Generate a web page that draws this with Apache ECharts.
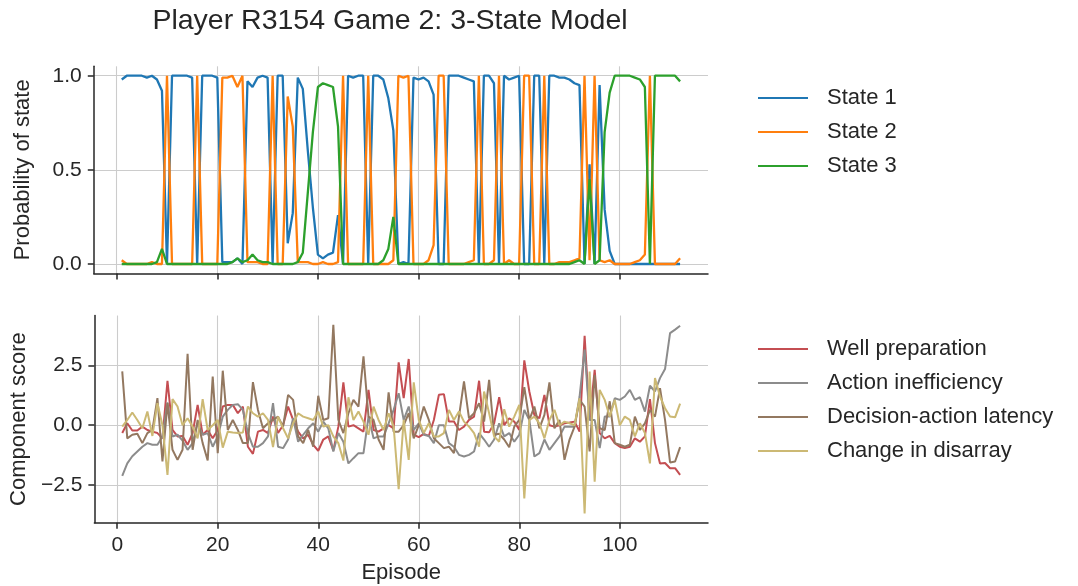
<!DOCTYPE html>
<html>
<head>
<meta charset="utf-8">
<script src="https://cdn.jsdelivr.net/npm/echarts@6/dist/echarts.min.js"></script>
<style>html,body{margin:0;padding:0;background:#fff}#c{width:1078px;height:586px}</style>
</head>
<body>
<div id="c"></div>
<script>
// ---- data ----
const episodes = Array.from({length: 112}, (_, i) => i + 1);
const xTicks = [0, 20, 40, 60, 80, 100];
const probTicks = [0, 0.5, 1.0];
const scoreTicks = [-2.5, 0, 2.5];

const state1 = [0.98,1.0,1.0,1.0,1.0,0.99,1.0,0.98,0.92,0.0,
  1.0,1.0,1.0,1.0,0.99,0.0,1.0,1.0,1.0,0.99,
  0.01,0.01,0.01,0.03,0.0,0.97,0.94,0.99,1.0,0.99,
  0.0,1.0,1.0,0.11,0.27,0.99,0.93,0.6,0.3,0.05,
  0.03,0.05,0.06,0.26,0.0,1.0,0.99,1.0,1.0,0.0,
  1.0,1.0,0.98,0.88,0.71,0.0,0.01,0.0,0.99,0.98,
  0.99,0.97,0.9,0.0,0.0,1.0,1.0,1.0,0.99,0.98,
  0.97,0.0,1.0,1.0,0.96,0.0,1.0,0.98,0.99,1.0,
  0.0,0.0,1.0,1.0,0.0,1.0,1.0,0.99,0.99,0.98,
  0.96,0.95,0.0,0.53,0.0,0.95,0.29,0.07,0.0,0.0,
  0.0,0.0,0.0,0.0,0.0,0.0,0.0,0.0,0.0,0.0,
  0.0,0.0];
const state2 = [0.02,0.0,0.0,0.0,0.0,0.0,0.01,0.0,0.0,1.0,
  0.0,0.0,0.0,0.0,0.0,1.0,0.0,0.0,0.0,0.0,
  0.99,0.99,1.0,0.94,1.0,0.01,0.01,0.01,0.0,0.0,
  1.0,0.0,0.0,0.89,0.73,0.01,0.01,0.01,0.0,0.0,
  0.01,0.0,0.0,0.01,1.0,0.0,0.0,0.0,0.0,1.0,
  0.0,0.0,0.0,0.0,0.02,1.0,0.99,1.0,0.0,0.0,
  0.0,0.02,0.1,1.0,1.0,0.0,0.0,0.0,0.0,0.01,
  0.02,1.0,0.0,0.0,0.02,1.0,0.0,0.02,0.0,0.0,
  1.0,1.0,0.0,0.0,1.0,0.0,0.0,0.01,0.01,0.01,
  0.02,0.03,1.0,0.02,1.0,0.02,0.01,0.02,0.0,0.0,
  0.0,0.0,0.01,0.02,0.05,1.0,0.0,0.0,0.0,0.0,
  0.0,0.03];
const state3 = [0.0,0.0,0.0,0.0,0.0,0.0,0.0,0.01,0.08,0.0,
  0.0,0.0,0.0,0.0,0.0,0.0,0.0,0.0,0.0,0.0,
  0.0,0.0,0.01,0.03,0.01,0.02,0.05,0.02,0.01,0.01,
  0.0,0.0,0.0,0.0,0.0,0.01,0.06,0.38,0.7,0.94,
  0.96,0.95,0.94,0.73,0.0,0.0,0.0,0.0,0.0,0.0,
  0.0,0.0,0.02,0.08,0.25,0.0,0.0,0.0,0.0,0.0,
  0.0,0.0,0.0,0.0,0.0,0.0,0.0,0.0,0.0,0.0,
  0.0,0.0,0.0,0.0,0.0,0.0,0.0,0.0,0.0,0.0,
  0.0,0.0,0.0,0.0,0.0,0.0,0.0,0.0,0.0,0.0,
  0.01,0.02,0.0,0.45,0.0,0.02,0.7,0.91,1.0,1.0,
  1.0,1.0,0.99,0.98,0.94,0.0,1.0,1.0,1.0,1.0,
  1.0,0.97];

const wellPrep = [-0.33,0.08,-0.22,-0.22,-0.06,-0.2,-0.27,-0.33,-0.55,1.86,
  -0.2,-0.47,-0.45,-0.82,-0.33,0.85,-0.4,-0.2,-0.55,-0.2,
  0.78,0.85,0.85,0.5,0.78,-0.9,-1.2,-0.27,-0.2,-0.33,
  0.36,-0.33,0.0,0.78,0.22,-0.27,-0.55,-0.4,-0.82,-1.07,
  -0.6,-0.47,-1.06,-0.06,1.79,-0.06,0.0,-0.13,-0.27,1.48,
  -0.2,-0.27,-0.13,0.0,-0.13,2.63,1.13,2.77,-0.4,-0.5,
  -0.36,-0.45,0.22,1.27,1.3,0.15,0.15,-0.2,-0.06,0.22,
  0.36,1.86,-0.27,-0.3,0.08,1.17,0.0,0.29,0.15,-0.2,
  2.71,1.41,0.43,0.29,1.27,0.0,-0.06,0.0,0.08,0.11,
  0.15,-0.27,3.74,0.22,2.32,-0.33,-0.55,-0.45,-0.75,-0.9,
  -0.96,-0.9,-0.55,-0.69,-0.47,1.09,-0.75,-1.6,-1.58,-1.8,
  -1.8,-2.08];
const actionIneff = [-2.12,-1.6,-1.3,-1.1,-0.9,-0.75,-0.82,-0.82,-0.47,0.95,
  -0.47,-0.4,-0.65,-1.03,-0.75,0.08,-0.4,-0.33,-0.9,-0.47,
  0.36,0.64,0.85,0.88,0.64,-0.33,-0.9,-0.9,-0.75,-0.47,
  0.92,-0.9,-0.96,-0.6,0.29,-0.69,-0.4,-0.13,0.08,-0.27,
  0.15,-0.13,-1.1,-0.33,-0.69,-1.6,-1.38,-1.17,-1.17,0.36,
  -0.55,-0.47,-0.47,0.08,0.64,1.34,0.22,0.78,-0.2,0.08,
  -0.4,-0.45,-0.75,0.0,0.0,-0.75,-0.9,-1.24,-1.31,-1.24,
  -1.1,-0.33,-0.6,-0.9,-0.6,0.08,-0.47,-0.33,-0.69,-0.4,
  0.64,0.22,-1.31,-1.17,-0.6,-1.03,-0.75,-0.47,-0.06,-0.06,
  -0.06,1.2,3.16,0.22,0.22,-0.96,0.36,0.36,1.13,1.06,
  1.2,1.48,1.06,1.17,0.57,1.65,1.41,1.97,2.35,3.85,
  4.0,4.16];
const decisionLatency = [2.25,-0.55,-0.4,-0.36,-0.75,-0.33,-0.2,1.13,-1.52,0.92,
  -1.03,-1.45,-1.03,2.99,-1.03,0.22,-0.75,-1.48,2.04,-1.17,
  2.28,-0.2,0.22,-0.2,-0.75,-0.75,1.8,0.64,-0.13,0.08,
  0.22,0.36,-0.06,1.27,1.06,-0.47,-0.75,-0.2,-0.9,1.23,
  0.22,0.29,4.2,0.22,-0.33,0.5,1.06,0.78,2.88,0.36,
  0.22,-0.6,-1.03,1.37,-0.27,-0.27,0.0,0.5,-0.55,0.0,
  0.78,0.22,-0.55,-0.75,-0.96,-0.9,-1.17,0.36,1.83,0.29,
  0.5,0.92,0.15,1.9,-0.4,-0.36,-0.6,-0.92,-0.06,0.22,
  1.59,0.22,0.78,-0.13,0.43,1.79,-0.13,0.22,-1.45,-0.6,
  -0.06,1.06,0.78,-1.1,2.1,-0.13,-0.2,1.0,-0.75,-0.82,
  -0.9,-0.82,0.36,-0.2,0.08,0.64,0.36,1.55,0.22,-1.56,
  -1.52,-0.92];
const disarray = [-0.06,0.22,0.53,0.22,-0.13,0.57,-0.45,0.92,0.0,-2.08,
  1.09,0.78,0.0,0.29,-0.06,-0.55,1.09,-0.2,0.0,0.22,
  -0.94,-0.27,-0.31,-0.33,-0.31,0.78,0.5,0.36,0.5,0.22,
  -0.92,0.36,-0.13,-0.55,0.08,0.5,0.36,0.29,0.22,0.57,
  -0.06,0.0,-0.47,-0.75,-1.48,1.17,0.22,0.57,0.15,-0.4,
  0.78,0.22,-0.2,0.5,-0.06,-2.68,0.22,-1.45,1.79,0.22,
  -0.33,0.08,-0.47,-0.47,-0.33,0.64,0.22,0.57,0.15,-0.06,
  -0.33,-0.9,1.41,0.5,-0.47,-0.69,0.67,-0.06,0.36,0.85,
  -3.06,0.22,0.36,0.08,-0.55,0.22,0.64,0.0,0.15,0.08,
  0.0,1.13,-3.69,2.25,-2.36,1.48,1.06,0.36,1.06,0.0,
  0.36,0.22,-0.47,0.08,-0.33,-1.6,1.97,1.2,0.71,0.36,
  0.33,0.9];

// ---- chart ----
const FONT = "'Liberation Sans', Arial, sans-serif";
const INK = '#262626';
const GRIDC = '#cccccc';
const pair = arr => episodes.map((e, i) => [e, arr[i]]);
const fmt = v => (v < 0 ? '\u2212' + (-v).toFixed(1) : v.toFixed(1));

function xAxisCfg(idx, showLabels) {
  return {
    type: 'value', gridIndex: idx, min: -4.55, max: 117.55,
    axisLine: {show: true, onZero: false, lineStyle: {color: INK, width: 1.5}},
    axisTick: {show: true, length: 6, customValues: xTicks, lineStyle: {color: INK, width: 1.5}},
    axisLabel: {show: showLabels, customValues: xTicks, fontSize: 21, color: INK, fontFamily: FONT, margin: 12},
    splitLine: {show: true, lineStyle: {color: GRIDC, width: 1.1}},
    name: showLabels ? 'Episode' : '',
    nameLocation: 'middle', nameGap: 39,
    nameTextStyle: {fontSize: 22, color: INK, fontFamily: FONT}
  };
}
function yAxisCfg(idx, min, max, ticks, name, gap) {
  return {
    type: 'value', gridIndex: idx, min: min, max: max,
    axisLine: {show: true, onZero: false, lineStyle: {color: INK, width: 1.5}},
    axisTick: {show: true, length: 6, customValues: ticks, lineStyle: {color: INK, width: 1.5}},
    axisLabel: {customValues: ticks, formatter: fmt, fontSize: 21, color: INK, fontFamily: FONT, margin: 12},
    splitLine: {show: true, lineStyle: {color: GRIDC, width: 1.1}},
    name: name, nameLocation: 'middle', nameRotate: 90, nameGap: gap,
    nameTextStyle: {fontSize: 22, color: INK, fontFamily: FONT}
  };
}
function lineSeries(name, arr, color, xi, width) {
  return {
    name: name, type: 'line', xAxisIndex: xi, yAxisIndex: xi,
    data: pair(arr), symbol: 'none', showSymbol: false,
    lineStyle: {color: color, width: width}, itemStyle: {color: color},
    emphasis: {disabled: true}, z: 2
  };
}
function legendCfg(names, top) {
  return {
    data: names, orient: 'vertical', left: 758, top: top, padding: 0,
    icon: 'rect', itemWidth: 50, itemHeight: 2.2, itemGap: 12, selectedMode: false,
    textStyle: {fontSize: 22, color: INK, fontFamily: FONT, padding: [0, 0, 0, 14]}
  };
}

const chart = echarts.init(document.getElementById('c'), null, {renderer: 'canvas'});
chart.setOption({
  animation: false,
  backgroundColor: '#ffffff',
  textStyle: {fontFamily: FONT},
  title: {
    text: 'Player R3154 Game 2: 3-State Model',
    left: 390, top: 7, textAlign: 'center', padding: 0,
    textStyle: {fontSize: 28.5, fontWeight: 'normal', color: INK, fontFamily: FONT}
  },
  grid: [
    {left: 93.8, right: 370, top: 66.3, height: 207.1},
    {left: 93.8, right: 370, top: 315.5, height: 207.2}
  ],
  xAxis: [xAxisCfg(0, false), xAxisCfg(1, true)],
  yAxis: [
    yAxisCfg(0, -0.05, 1.05, probTicks, 'Probability of state', 60),
    yAxisCfg(1, -4.08, 4.59, scoreTicks, 'Component score', 60)
  ],
  legend: [
    legendCfg(['State 1', 'State 2', 'State 3'], 87),
    legendCfg(['Well preparation', 'Action inefficiency', 'Decision-action latency', 'Change in disarray'], 338)
  ],
  series: [
    lineSeries('State 1', state1, '#1f77b4', 0, 2.3),
    lineSeries('State 2', state2, '#ff7f0e', 0, 2.3),
    lineSeries('State 3', state3, '#2ca02c', 0, 2.3),
    lineSeries('Well preparation', wellPrep, '#c44e52', 1, 2),
    lineSeries('Action inefficiency', actionIneff, '#8c8c8c', 1, 2),
    lineSeries('Decision-action latency', decisionLatency, '#937860', 1, 2),
    lineSeries('Change in disarray', disarray, '#ccb974', 1, 2)
  ]
});
</script>
</body>
</html>
